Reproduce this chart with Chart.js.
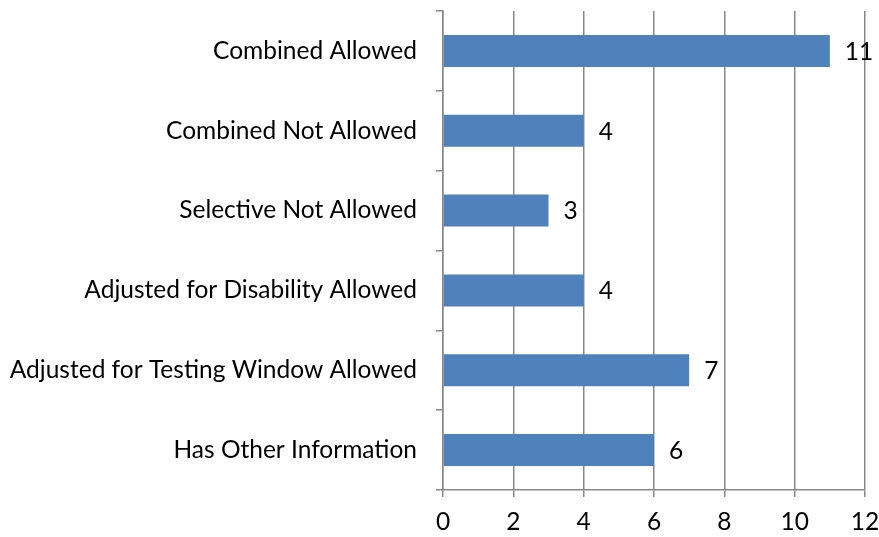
<!DOCTYPE html>
<html lang="en">
<head>
  <meta charset="UTF-8">
  <title>Allowed categories</title>
  <script src="https://cdn.jsdelivr.net/npm/chart.js"></script>
  <style>
    html, body { margin: 0; padding: 0; background: #fff; }
    #wrap { width: 879px; height: 537px; }
  </style>
</head>
<body>
  <div id="wrap"><canvas id="barChart"></canvas></div>

  <script>
    const categories = [
      'Combined Allowed',
      'Combined Not Allowed',
      'Selective Not Allowed',
      'Adjusted for Disability Allowed',
      'Adjusted for Testing Window Allowed',
      'Has Other Information'
    ];
    const counts = [11, 4, 3, 4, 7, 6];
    const xTicks = [0, 2, 4, 6, 8, 10, 12];

    const font = { family: 'Lato, "Open Sans", sans-serif', size: 24.5 };
    const gridGray = '#888888';

    // value labels at the end of each bar
    const valueLabels = {
      id: 'valueLabels',
      afterDatasetsDraw(chart) {
        const ctx = chart.ctx;
        const meta = chart.getDatasetMeta(0);
        ctx.save();
        ctx.font = font.size + 'px ' + font.family;
        ctx.fillStyle = '#000';
        ctx.textBaseline = 'middle';
        ctx.textAlign = 'left';
        meta.data.forEach((bar, i) => {
          ctx.fillText(String(counts[i]), bar.x + 15, bar.y + 1);
        });
        ctx.restore();
      }
    };

    new Chart(document.getElementById('barChart'), {
      type: 'bar',
      data: {
        labels: categories,
        datasets: [{
          data: counts,
          backgroundColor: '#4F81BD',
          borderWidth: 0,
          barPercentage: 0.4,
          categoryPercentage: 1.0
        }]
      },
      options: {
        indexAxis: 'y',
        responsive: true,
        maintainAspectRatio: false,
        animation: false,
        layout: { padding: { top: 11, right: 14, left: 0, bottom: 0 } },
        plugins: {
          legend: { display: false },
          tooltip: { enabled: false }
        },
        scales: {
          x: {
            min: 0,
            max: 12,
            afterBuildTicks(scale) {
              scale.ticks = xTicks.map(v => ({ value: v }));
            },
            afterFit(scale) {
              scale.height = 47;
              scale.paddingLeft = 0;
              scale.paddingRight = 0;
            },
            grid: {
              color: gridGray,
              lineWidth: 1.5,
              tickLength: 7,
              drawTicks: true
            },
            border: { color: gridGray, width: 1.5 },
            ticks: { color: '#000', font: font, padding: 10 }
          },
          y: {
            afterFit(scale) {
              scale.width = 443;
              scale.paddingTop = 0;
              scale.paddingBottom = 0;
            },
            grid: {
              offset: true,
              drawOnChartArea: false,
              color: gridGray,
              lineWidth: 1.5,
              tickLength: 7
            },
            border: { color: gridGray, width: 1.5 },
            ticks: { color: '#000', font: font, padding: 19 }
          }
        }
      },
      plugins: [valueLabels]
    });
  </script>
</body>
</html>
